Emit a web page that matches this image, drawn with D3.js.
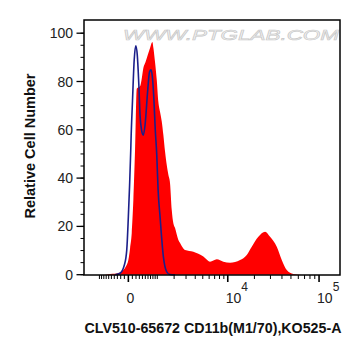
<!DOCTYPE html>
<html>
<head>
<meta charset="utf-8">
<script src="https://cdn.jsdelivr.net/npm/d3@7"></script>
<style>
  html, body { margin: 0; padding: 0; background: #fff; }
  svg { display: block; }
  text { font-family: "Liberation Sans", Arial, sans-serif; }
</style>
</head>
<body>
<svg id="chart" width="363" height="356"></svg>
<script>
// ---- data (fluorescence value, relative cell count) ----
const redX = [-750, -550, -374, -219, -127, -55, 0, 42, 84, 127, 173, 222, 260, 322, 370, 431, 505, 590, 680, 776, 820, 895, 975, 1052, 1138, 1227, 1315, 1411, 1512, 1615, 1720, 1834, 1946, 2070, 2325, 2464, 2751, 2909, 3778, 5087, 6160, 7424, 8884, 10633, 13820, 16444, 18700, 22120, 26205, 29714, 35143, 39817, 45070, 53116, 65366];
const redY = [0, 0.3, 0.4, 0.9, 1.9, 3.6, 6.1, 11, 17.3, 31, 51.6, 77, 77.5, 78, 80.6, 85.6, 88, 91, 93.9, 96.4, 94, 88, 80.6, 71.6, 67.4, 63.4, 57.8, 51, 45.4, 41.3, 37.8, 26.8, 21.3, 19.3, 14.4, 13.1, 10.9, 10.2, 9.5, 7.5, 5.4, 6.4, 5.4, 5.0, 6.1, 8.2, 11.6, 15.7, 17.8, 15.7, 11.6, 6.1, 1.9, 0.3, 0];
const blueX = [-374, -219, -100, -39, 0, 30, 59, 66, 104, 150, 193, 237, 285, 322, 370, 431, 491, 590, 660, 722, 782, 845, 905, 975, 1040, 1138, 1315, 1512, 1720, 2070];
const blueY = [0, 0.6, 4, 10.2, 24, 37, 51.6, 55.8, 72, 89, 94.8, 91, 78.5, 66, 60, 57.8, 62, 76.5, 84, 84.8, 81.4, 72.3, 60, 49.6, 35, 24, 7.5, 1.2, 0.1, 0];

const yTicks = [0, 20, 40, 60, 80, 100];
const yMinor = d3.range(0, 101, 5);
const xMajor = [0, 1e4, 1e5];
const xLabels = [["0", ""], ["10", "4"], ["10", "5"]];
const xMinor = [].concat(
  d3.range(-1000, 0, 100),
  d3.range(100, 1000, 100),
  d3.range(1000, 10000, 1000),
  d3.range(20000, 100000, 10000)
);
const yTitle = "Relative Cell Number";
const xTitle = "CLV510-65672 CD11b(M1/70),KO525-A";
const watermark = "WWW.PTGLAB.COM";

// ---- layout ----
const L = 84, R = 340, T = 20, B = 275;
const svg = d3.select("#chart");

const x = d3.scaleSymlog().constant(980).domain([-1900, 167000]).range([L, R]);
const y = d3.scaleLinear().domain([0, 100]).range([274.7, 33.2]);

// watermark
svg.append("text")
  .attr("x", 123).attr("y", 40)
  .attr("textLength", 216).attr("lengthAdjust", "spacingAndGlyphs")
  .attr("font-size", 15).attr("font-style", "italic")
  .attr("fill", "#f4f4f4").attr("stroke", "#c8c8c8").attr("stroke-width", 0.6)
  .text(watermark);

// red filled histogram
const redData = redX.map((v, i) => [v, redY[i]]);
svg.append("path")
  .datum(redData)
  .attr("fill", "#ff0000")
  .attr("d", d3.area().x(d => x(d[0])).y0(y(0)).y1(d => y(d[1])).curve(d3.curveMonotoneX));

// blue outline histogram
const blueData = blueX.map((v, i) => [v, blueY[i]]);
svg.append("path")
  .datum(blueData)
  .attr("fill", "none")
  .attr("stroke", "#1b1f8a")
  .attr("stroke-width", 1.6)
  .attr("d", d3.line().x(d => x(d[0])).y(d => y(d[1])).curve(d3.curveMonotoneX));

// frame
svg.append("rect")
  .attr("x", L).attr("y", T).attr("width", R - L).attr("height", B - T)
  .attr("fill", "none").attr("stroke", "#000").attr("stroke-width", 1.5);

// y axis
const gy = svg.append("g");
gy.selectAll("line.minor").data(yMinor).join("line")
  .attr("x1", L - 3.5).attr("x2", L).attr("y1", d => y(d)).attr("y2", d => y(d))
  .attr("stroke", "#000").attr("stroke-width", 1);
gy.selectAll("line.major").data(yTicks).join("line")
  .attr("x1", L - 7.5).attr("x2", L).attr("y1", d => y(d)).attr("y2", d => y(d))
  .attr("stroke", "#000").attr("stroke-width", 1.3);
gy.selectAll("text").data(yTicks).join("text")
  .attr("x", 73).attr("y", d => y(d) + 5)
  .attr("text-anchor", "end").attr("font-size", 14).attr("fill", "#222")
  .text(d => d);

// x axis
const gx = svg.append("g");
gx.selectAll("line.minor").data(xMinor).join("line")
  .attr("x1", d => x(d)).attr("x2", d => x(d)).attr("y1", B).attr("y2", B + 4)
  .attr("stroke", "#000").attr("stroke-width", 1);
gx.selectAll("line.major").data(xMajor).join("line")
  .attr("x1", d => x(d)).attr("x2", d => x(d)).attr("y1", B).attr("y2", B + 7)
  .attr("stroke", "#000").attr("stroke-width", 1.6);
const xl = gx.selectAll("text").data(xMajor).join("text")
  .attr("x", (d, i) => i === 0 ? x(d) + 2 : x(d) - 2)
  .attr("y", 303)
  .attr("text-anchor", (d, i) => i === 0 ? "middle" : "start")
  .attr("font-size", 14).attr("fill", "#222");
xl.append("tspan").text((d, i) => xLabels[i][0]);
xl.append("tspan").attr("dy", -12.5).attr("font-size", 12).text((d, i) => xLabels[i][1]);

// titles
svg.append("text")
  .attr("transform", "translate(35,146) rotate(-90)")
  .attr("text-anchor", "middle").attr("font-size", 14).attr("font-weight", "bold")
  .attr("textLength", 145).attr("lengthAdjust", "spacingAndGlyphs")
  .attr("fill", "#111")
  .text(yTitle);
svg.append("text")
  .attr("x", 213).attr("y", 332.5)
  .attr("text-anchor", "middle").attr("font-size", 14).attr("font-weight", "bold")
  .attr("textLength", 257).attr("lengthAdjust", "spacingAndGlyphs")
  .attr("fill", "#111")
  .text(xTitle);
</script>
</body>
</html>
